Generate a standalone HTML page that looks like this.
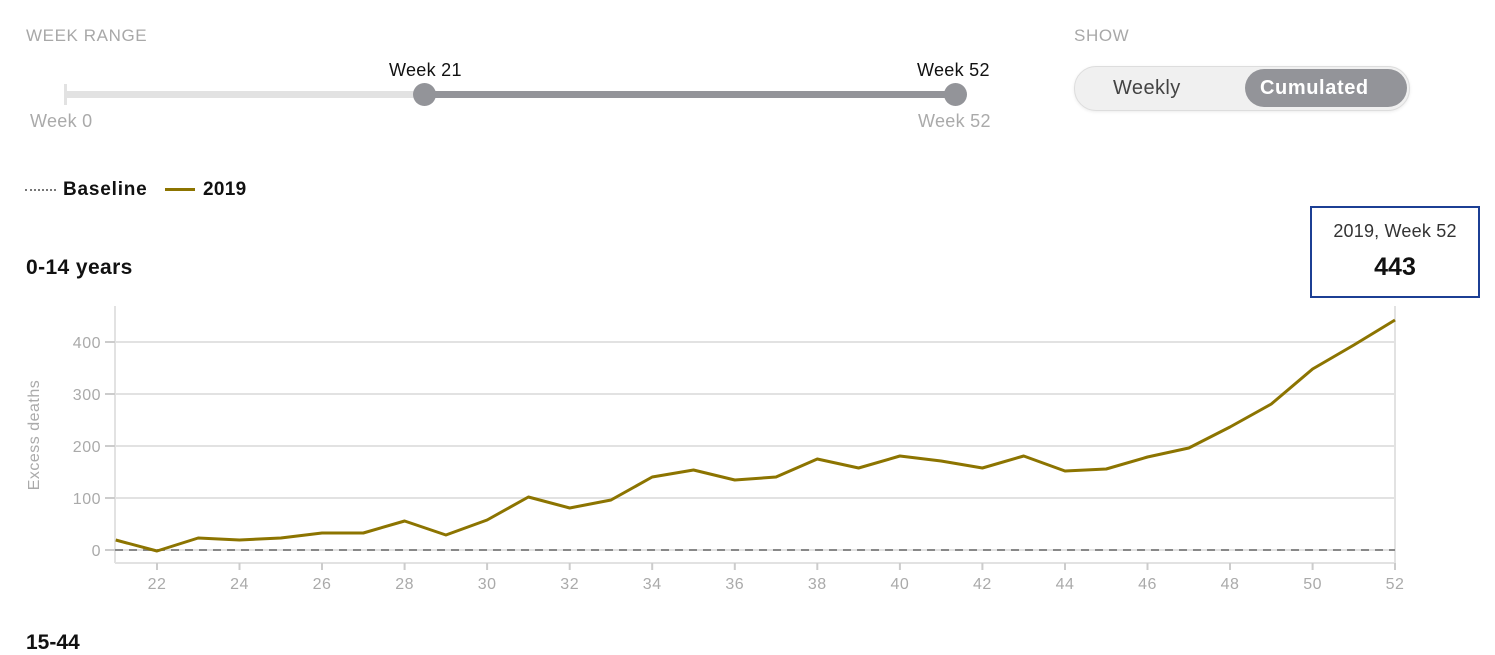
<!DOCTYPE html>
<html><head><meta charset="utf-8"><style>
body{margin:0;width:1495px;height:636px;overflow:hidden;background:#fff;font-family:"Liberation Sans",sans-serif;position:relative}
.a{position:absolute;white-space:nowrap}
</style></head><body>
<div class="a" style="left:26px;top:26px;font-size:17px;color:#a8a8a8;letter-spacing:0.6px">WEEK RANGE</div>
<div class="a" style="left:1074px;top:26px;font-size:17px;color:#a8a8a8;letter-spacing:0.6px">SHOW</div>
<div class="a" style="left:65px;top:91px;width:360px;height:7px;background:#e2e2e2"></div>
<div class="a" style="left:64px;top:84px;width:3px;height:21px;background:#e2e2e2"></div>
<div class="a" style="left:425px;top:91px;width:530px;height:7px;background:#939499"></div>
<div class="a" style="left:413px;top:83px;width:23px;height:23px;border-radius:50%;background:#939499"></div>
<div class="a" style="left:944px;top:83px;width:23px;height:23px;border-radius:50%;background:#939499"></div>
<div class="a" style="left:389px;top:60px;font-size:18px;color:#111;letter-spacing:0.3px">Week 21</div>
<div class="a" style="left:917px;top:60px;font-size:18px;color:#111;letter-spacing:0.3px">Week 52</div>
<div class="a" style="left:30px;top:111px;font-size:18px;color:#aaa;letter-spacing:0.3px">Week 0</div>
<div class="a" style="left:918px;top:111px;font-size:18px;color:#aaa;letter-spacing:0.3px">Week 52</div>
<div class="a" style="left:1074px;top:66px;width:334px;height:43px;border-radius:22px;background:#f0f0f0;border:1px solid #ddd;box-shadow:0 1px 3px rgba(0,0,0,0.08)"></div>
<div class="a" style="left:1245px;top:69px;width:162px;height:38px;border-radius:19px;background:#939499"></div>
<div class="a" style="left:1113px;top:77px;font-size:20px;color:#444;letter-spacing:0.4px">Weekly</div>
<div class="a" style="left:1260px;top:77px;font-size:20px;color:#fff;font-weight:bold;letter-spacing:0.6px">Cumulated</div>
<div class="a" style="left:25px;top:189px;width:31px;border-top:2px dotted #777"></div>
<div class="a" style="left:63px;top:179px;font-size:19px;font-weight:bold;color:#111;letter-spacing:0.8px">Baseline</div>
<div class="a" style="left:165px;top:188px;width:30px;height:3px;background:#8c7400"></div>
<div class="a" style="left:203px;top:179px;font-size:19px;font-weight:bold;color:#111;letter-spacing:0.3px">2019</div>
<div class="a" style="left:26px;top:256px;font-size:21px;font-weight:bold;color:#111;letter-spacing:0.4px">0-14 years</div>
<div class="a" style="left:26px;top:631px;font-size:21px;font-weight:bold;color:#111">15-44</div>
<div class="a" style="left:1310px;top:206px;width:166px;height:88px;border:2px solid #1c3f94;background:#fff"></div>
<div class="a" style="left:1312px;top:221px;width:166px;text-align:center;font-size:18px;color:#333;letter-spacing:0.2px">2019, Week 52</div>
<div class="a" style="left:1312px;top:253px;width:166px;text-align:center;font-size:25px;font-weight:bold;color:#111">443</div>
<svg class="a" style="left:0;top:0" width="1495" height="636">
<g stroke="#e2e2e2" stroke-width="2">
<line x1="115" y1="306" x2="115" y2="563"/><line x1="1395" y1="306" x2="1395" y2="563"/>
<line x1="115" y1="563" x2="1395" y2="563"/>
<line x1="115" y1="342" x2="1395" y2="342"/><line x1="115" y1="394" x2="1395" y2="394"/>
<line x1="115" y1="446" x2="1395" y2="446"/><line x1="115" y1="498" x2="1395" y2="498"/>
<line x1="115" y1="550" x2="1395" y2="550"/>
</g>
<g stroke="#ccc" stroke-width="2">
<line x1="105" y1="342" x2="115" y2="342"/><line x1="105" y1="394" x2="115" y2="394"/><line x1="105" y1="446" x2="115" y2="446"/><line x1="105" y1="498" x2="115" y2="498"/><line x1="105" y1="550" x2="115" y2="550"/>
<line x1="157" y1="563" x2="157" y2="570"/><line x1="239.5" y1="563" x2="239.5" y2="570"/><line x1="322" y1="563" x2="322" y2="570"/><line x1="404.6" y1="563" x2="404.6" y2="570"/><line x1="487.1" y1="563" x2="487.1" y2="570"/><line x1="569.7" y1="563" x2="569.7" y2="570"/><line x1="652.2" y1="563" x2="652.2" y2="570"/><line x1="734.8" y1="563" x2="734.8" y2="570"/><line x1="817.3" y1="563" x2="817.3" y2="570"/><line x1="899.9" y1="563" x2="899.9" y2="570"/><line x1="982.4" y1="563" x2="982.4" y2="570"/><line x1="1065" y1="563" x2="1065" y2="570"/><line x1="1147.5" y1="563" x2="1147.5" y2="570"/><line x1="1230" y1="563" x2="1230" y2="570"/><line x1="1312.6" y1="563" x2="1312.6" y2="570"/><line x1="1395" y1="563" x2="1395" y2="570"/>
</g>
<line x1="115" y1="550" x2="1395" y2="550" stroke="#888" stroke-width="2" stroke-dasharray="8,6"/>
<g font-family="Liberation Sans,sans-serif" font-size="16" fill="#aaa" letter-spacing="0.5">
<g text-anchor="end"><text x="101" y="348">400</text><text x="101" y="400">300</text><text x="101" y="452">200</text><text x="101" y="504">100</text><text x="101" y="556">0</text></g>
<g text-anchor="middle"><text x="157" y="589">22</text><text x="239.5" y="589">24</text><text x="322" y="589">26</text><text x="404.6" y="589">28</text><text x="487.1" y="589">30</text><text x="569.7" y="589">32</text><text x="652.2" y="589">34</text><text x="734.8" y="589">36</text><text x="817.3" y="589">38</text><text x="899.9" y="589">40</text><text x="982.4" y="589">42</text><text x="1065" y="589">44</text><text x="1147.5" y="589">46</text><text x="1230" y="589">48</text><text x="1312.6" y="589">50</text><text x="1395" y="589">52</text></g>
<text x="39" y="435" text-anchor="middle" transform="rotate(-90 39 435)" font-size="16">Excess deaths</text>
</g>
<polyline fill="none" stroke="#8c7400" stroke-width="3" stroke-linejoin="round" points="115.7,540 157,551 198.2,538 239.5,540 280.8,538 322,533 363.3,533 404.6,521 445.9,535 487.1,520 528.4,497 569.7,508 611,500 652.2,477 693.5,470 734.8,480 776,477 817.3,459 858.6,468 899.9,456 941.1,461 982.4,468 1023.7,456 1065,471 1106.2,469 1147.5,457 1188.8,448 1230,427 1271.3,404 1312.6,369 1353.9,345 1395,320"/>
</svg>
</body></html>
